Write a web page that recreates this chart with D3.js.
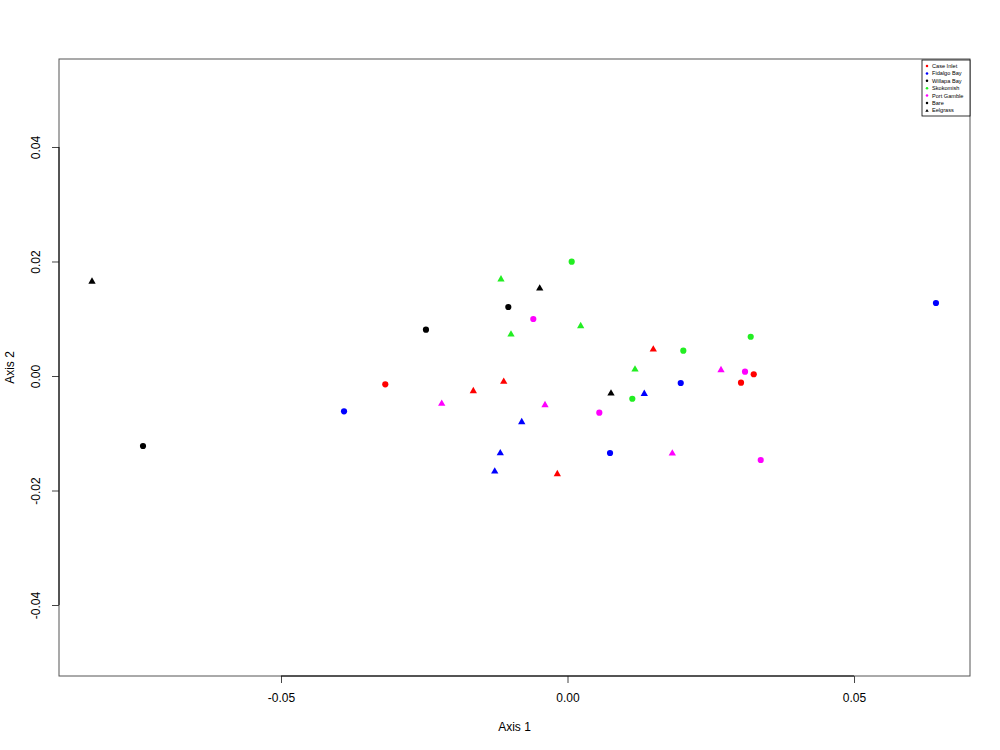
<!DOCTYPE html>
<html>
<head>
<meta charset="utf-8">
<script src="https://cdn.jsdelivr.net/npm/d3@7"></script>
<style>
  body { margin: 0; background: #fff; }
  text { font-family: "Liberation Sans", Arial, sans-serif; }
</style>
</head>
<body>
<div id="plot"></div>
<script>
var svgWidth = 1000;
var svgHeight = 750;

var margin = { top: 59, right: 30, bottom: 74, left: 59 };
var width = svgWidth - margin.left - margin.right;
var height = svgHeight - margin.top - margin.bottom;

// data
var sites = ["Case Inlet", "Fidalgo Bay", "Willapa Bay", "Skokomish", "Port Gamble"];
var siteColors = ["#ff0000", "#0000ff", "#000000", "#22ee22", "#ff00ff"];
var habitats = ["Bare", "Eelgrass"];

var pointSite = ["Willapa Bay", "Willapa Bay", "Fidalgo Bay", "Case Inlet", "Willapa Bay", "Port Gamble",
  "Case Inlet", "Skokomish", "Willapa Bay", "Skokomish", "Case Inlet", "Fidalgo Bay", "Fidalgo Bay",
  "Fidalgo Bay", "Port Gamble", "Willapa Bay", "Port Gamble", "Skokomish", "Case Inlet", "Skokomish",
  "Port Gamble", "Willapa Bay", "Fidalgo Bay", "Skokomish", "Skokomish", "Fidalgo Bay", "Case Inlet",
  "Skokomish", "Fidalgo Bay", "Port Gamble", "Port Gamble", "Case Inlet", "Port Gamble", "Case Inlet",
  "Skokomish", "Port Gamble", "Fidalgo Bay"];
var pointHabitat = ["Eelgrass", "Bare", "Bare", "Bare", "Bare", "Eelgrass",
  "Eelgrass", "Eelgrass", "Bare", "Eelgrass", "Eelgrass", "Eelgrass", "Eelgrass",
  "Eelgrass", "Bare", "Eelgrass", "Eelgrass", "Bare", "Eelgrass", "Eelgrass",
  "Bare", "Eelgrass", "Bare", "Eelgrass", "Bare", "Eelgrass", "Eelgrass",
  "Bare", "Bare", "Eelgrass", "Eelgrass", "Bare", "Bare", "Bare",
  "Bare", "Bare", "Bare"];
var axis1 = [-0.08298, -0.07408, -0.0390, -0.0318, -0.0247, -0.02195,
  -0.01644, -0.01161, -0.01033, -0.00986, -0.01113, -0.01173, -0.01270,
  -0.00799, -0.00597, -0.00485, -0.00393, 0.00073, -0.00178, 0.00230,
  0.00555, 0.00759, 0.00742, 0.01178, 0.01131, 0.01340, 0.01497,
  0.02021, 0.01976, 0.01829, 0.02679, 0.03028, 0.03098, 0.0325,
  0.03197, 0.03372, 0.0643];
var axis2 = [0.01668, -0.01223, -0.00617, -0.00145, 0.00809, -0.00466,
  -0.00245, 0.01707, 0.01205, 0.00746, -0.00082, -0.01328, -0.01647,
  -0.00786, 0.00996, 0.01549, -0.00489, 0.01997, -0.01694, 0.00891,
  -0.00641, -0.00285, -0.01345, 0.00134, -0.00397, -0.00292, 0.00484,
  0.00442, -0.00122, -0.01333, 0.00122, -0.00117, 0.00075, 0.0003,
  0.00686, -0.01467, 0.01275];

var xTicks = [-0.05, 0.00, 0.05];
var yTicks = [-0.04, -0.02, 0.00, 0.02, 0.04];

var points = axis1.map(function(v, i) {
  return { x: v, y: axis2[i], site: pointSite[i], habitat: pointHabitat[i] };
});

// plain hyphen for negatives, like base R
var fmt = function(d) { return d3.format(".2f")(d).replace("\u2212", "-"); };

// triangle centred on its bounding box (like R pch 17)
var symbolTri = {
  draw: function(context, size) {
    var s = Math.sqrt(size * 4 / Math.sqrt(3));
    var h = s * Math.sqrt(3) / 2;
    context.moveTo(0, -h / 2);
    context.lineTo(s / 2, h / 2);
    context.lineTo(-s / 2, h / 2);
    context.closePath();
  }
};

var svg = d3.select("#plot")
  .append("svg")
  .attr("width", svgWidth)
  .attr("height", svgHeight);

var chartGroup = svg.append("g")
  .attr("transform", `translate(${margin.left}, ${margin.top})`);

var xScale = d3.scaleLinear().domain([-0.08874, 0.07024]).range([0, width]);
var yScale = d3.scaleLinear().domain([-0.0524, 0.05537]).range([height, 0]);
var colorScale = d3.scaleOrdinal().domain(sites).range(siteColors);
var shapeScale = d3.scaleOrdinal().domain(habitats).range([d3.symbolCircle, symbolTri]);
var sizeScale = d3.scaleOrdinal().domain(habitats).range([30, 23]);

// plot box
chartGroup.append("rect")
  .attr("width", width)
  .attr("height", height)
  .attr("fill", "none")
  .attr("stroke", "#555")
  .attr("stroke-width", 1);

// x axis (R style: line spans first to last tick)
var xAxis = chartGroup.append("g")
  .attr("transform", `translate(0, ${height})`)
  .call(d3.axisBottom(xScale).tickValues(xTicks).tickFormat(fmt).tickSize(7).tickPadding(10));
xAxis.select(".domain").remove();
xAxis.append("line")
  .attr("x1", xScale(xTicks[0])).attr("x2", xScale(xTicks[xTicks.length - 1]))
  .attr("stroke", "#000");
xAxis.selectAll(".tick line").attr("stroke", "#444");
xAxis.selectAll("text").attr("font-size", 12).attr("fill", "#000")
  .attr("font-family", "Liberation Sans, Arial, sans-serif");

// y axis
var yAxis = chartGroup.append("g")
  .call(d3.axisLeft(yScale).tickValues(yTicks).tickFormat(fmt).tickSize(7));
yAxis.select(".domain").remove();
yAxis.append("line")
  .attr("y1", yScale(yTicks[0])).attr("y2", yScale(yTicks[yTicks.length - 1]))
  .attr("stroke", "#000");
yAxis.selectAll(".tick line").attr("stroke", "#444");
yAxis.selectAll(".tick text")
  .attr("x", null).attr("dy", null)
  .attr("text-anchor", "middle")
  .attr("transform", "translate(-19,0) rotate(-90)")
  .attr("font-size", 12).attr("fill", "#000")
  .attr("font-family", "Liberation Sans, Arial, sans-serif");

// axis titles
svg.append("text")
  .attr("x", margin.left + width / 2)
  .attr("y", 731)
  .attr("text-anchor", "middle")
  .attr("font-size", 12)
  .text("Axis 1");

svg.append("text")
  .attr("transform", `translate(14, ${margin.top + height / 2}) rotate(-90)`)
  .attr("text-anchor", "middle")
  .attr("font-size", 12)
  .text("Axis 2");

// points
chartGroup.selectAll("path.pt")
  .data(points)
  .enter()
  .append("path")
  .attr("class", "pt")
  .attr("d", d => d3.symbol().type(shapeScale(d.habitat)).size(sizeScale(d.habitat))())
  .attr("transform", d => `translate(${xScale(d.x)}, ${yScale(d.y)})`)
  .attr("fill", d => colorScale(d.site));

// legend
var legendItems = sites.map(function(s) {
  return { label: s, color: colorScale(s), shape: d3.symbolCircle };
}).concat(habitats.map(function(h) {
  return { label: h, color: "#000", shape: shapeScale(h) };
}));

var legend = svg.append("g")
  .attr("transform", "translate(922, 60)");

legend.append("rect")
  .attr("width", 48)
  .attr("height", 56)
  .attr("fill", "#fff")
  .attr("stroke", "#000")
  .attr("stroke-width", 0.8);

var legendRow = legend.selectAll("g.row")
  .data(legendItems)
  .enter()
  .append("g")
  .attr("class", "row")
  .attr("transform", (d, i) => `translate(5, ${6 + i * 7.4})`);

legendRow.append("path")
  .attr("d", d => d3.symbol().type(d.shape).size(5)())
  .attr("fill", d => d.color);

legendRow.append("text")
  .attr("x", 5)
  .attr("y", 2)
  .attr("font-size", 5.6)
  .text(d => d.label);
</script>
</body>
</html>
